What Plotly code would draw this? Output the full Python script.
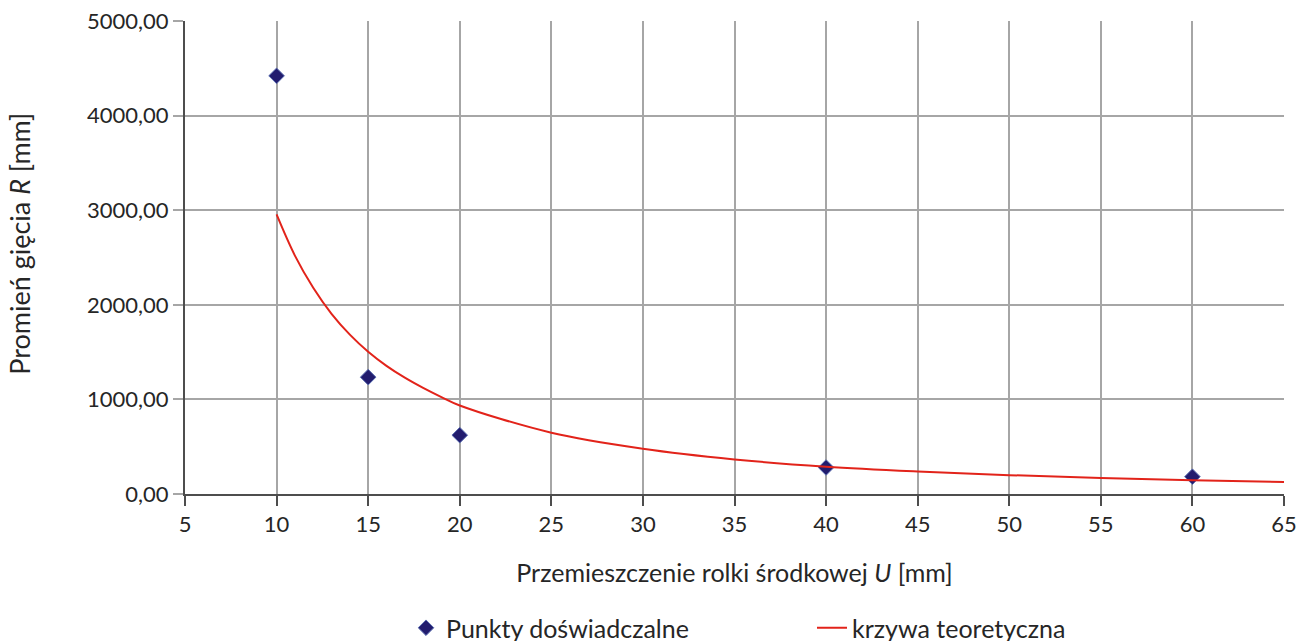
import plotly.graph_objects as go

# Experimental points
exp_u = [10, 15, 20, 40, 60]
exp_r = [4420, 1235, 622, 280, 183]

# Theoretical curve
theo_u = [10, 11, 12, 13, 14, 15, 16, 17, 18, 19, 20, 25, 30, 35, 40, 45, 50, 55, 60, 65]
theo_r = [2955, 2520, 2180, 1905, 1685, 1504, 1355, 1230, 1122, 1025, 936,
          648, 479, 366, 289, 238, 199, 170, 146, 128]

x_ticks = [5, 10, 15, 20, 25, 30, 35, 40, 45, 50, 55, 60, 65]
y_ticks = [0, 1000, 2000, 3000, 4000, 5000]

FONT = "Lato"
TXT = "#262626"

fig = go.Figure()
fig.add_trace(go.Scatter(
    x=exp_u, y=exp_r, mode="markers", name="Punkty doświadczalne",
    marker=dict(symbol="diamond", size=12, color="#221c6e",
                line=dict(color="#5a6db0", width=1)),
))
fig.add_trace(go.Scatter(
    x=theo_u, y=theo_r, mode="lines", name="krzywa teoretyczna",
    line=dict(color="#e2231a", width=2, shape="spline", smoothing=1.0),
))

fig.update_layout(
    width=1298, height=641,
    margin=dict(l=185, r=14, t=21, b=147),
    paper_bgcolor="white", plot_bgcolor="white",
    separators=",.",
    font=dict(family=FONT, size=22, color=TXT),
    showlegend=True,
    legend=dict(orientation="h", xref="container", yref="container",
                x=406 / 1298, xanchor="left", y=1 - 628 / 641, yanchor="middle",
                font=dict(family=FONT, size=25, color=TXT),
                entrywidth=361, entrywidthmode="pixels", itemwidth=30),
    annotations=[dict(
        text="Promień gięcia <i>R</i> [mm]", textangle=-90,
        xref="paper", yref="paper", x=0, y=(494.5 - 244) / 473.5,
        xshift=-165, xanchor="center", yanchor="middle", showarrow=False,
        font=dict(family=FONT, size=27, color=TXT),
    )],
)
fig.update_xaxes(
    range=[5, 65], tickmode="array", tickvals=x_ticks, automargin=False,
    showgrid=True, gridcolor="#a6a6a6", gridwidth=1.5,
    showline=True, linecolor="#4d4d4d", linewidth=2,
    ticks="outside", ticklen=10, tickcolor="#4d4d4d", tickwidth=1.5,
    zeroline=False, tickfont=dict(size=22, color=TXT),
    title=dict(text="Przemieszczenie rolki środkowej <i>U</i> [mm]", standoff=28,
               font=dict(size=25, color=TXT)),
)
fig.update_yaxes(
    range=[0, 5000], tickmode="array", tickvals=y_ticks, tickformat=".2f", automargin=False,
    showgrid=True, gridcolor="#a6a6a6", gridwidth=1.5,
    showline=True, linecolor="#4d4d4d", linewidth=2,
    ticks="outside", ticklen=10, tickcolor="#a6a6a6", tickwidth=1.5,
    zeroline=False, tickfont=dict(size=22, color=TXT),
)

fig.write_html("out.html")
